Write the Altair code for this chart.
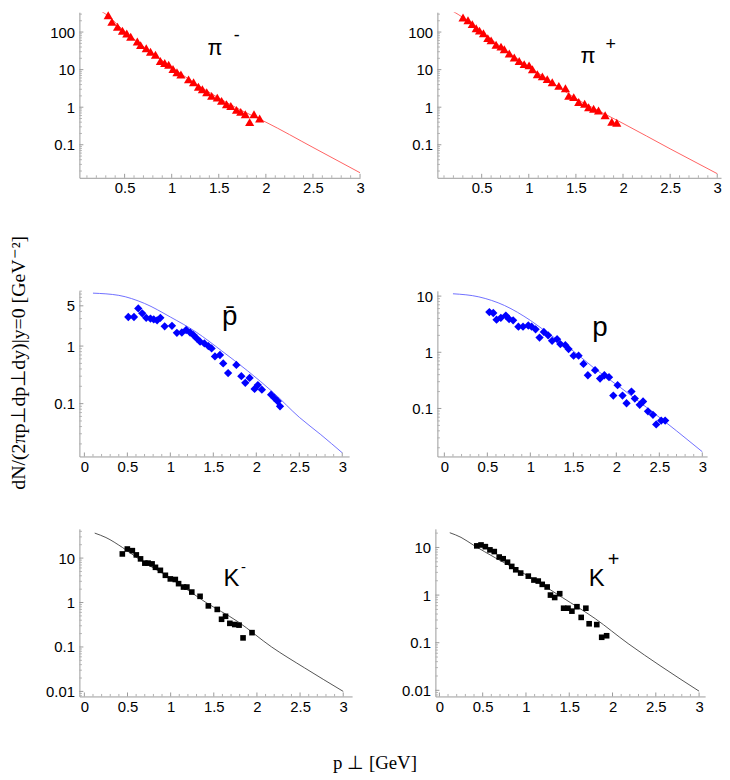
import altair as alt
import pandas as pd

# ---------------- data ----------------
# pi-
pim_p = [0.326,0.365,0.425,0.477,0.523,0.565,0.635,0.67,0.73,0.775,0.828,0.88,0.926,0.968,1.014,1.056,1.098,1.179,1.232,1.284,1.326,1.372,1.424,1.484,1.53,1.582,1.628,1.688,1.733,1.782,1.828,1.874,1.934]
pim_v = [280,187,138,108,92,75,56,45,37,30,25,17,15,13.5,10.4,8.5,7.4,5.5,4.6,3.5,3.0,2.5,2.0,1.8,1.47,1.2,1.08,0.85,0.75,0.65,0.40,0.65,0.50]
pim_cp = [0.1,0.3,0.5,0.75,1.0,1.25,1.5,1.75,2.0,2.5,3.0]
pim_cv = [546,300,105,33,11.5,4.3,1.75,0.8,0.40,0.085,0.018]
# pi+
pip_p = [0.302,0.355,0.4,0.442,0.477,0.519,0.565,0.6,0.653,0.705,0.74,0.793,0.846,0.898,0.951,1.003,1.039,1.091,1.144,1.196,1.249,1.319,1.389,1.424,1.477,1.53,1.593,1.635,1.688,1.74,1.81,1.881,1.934]
pip_v = [244,207,163,126,109,93,69,60,46,41,35,27,21,17,14,13,10.2,7.5,6.6,5.6,4.6,3.7,3.2,2.0,1.85,1.37,1.24,1.0,0.91,0.82,0.61,0.41,0.385]
pip_cp = [0.1,0.3,0.5,0.75,1.0,1.25,1.5,1.75,2.0,2.5,3.0]
pip_cv = [482,245,100,33,12,4.5,1.7,0.78,0.37,0.078,0.017]
# anti-proton
pbar_p = [0.511,0.577,0.627,0.673,0.719,0.769,0.807,0.846,0.884,0.934,1.019,1.076,1.134,1.184,1.23,1.269,1.307,1.346,1.396,1.442,1.48,1.519,1.577,1.615,1.672,1.768,1.826,1.872,1.922,1.98,2.018,2.065,2.172,2.211,2.249,2.276]
pbar_v = [3.2,3.2,4.5,3.7,3.1,3.0,2.9,2.8,3.1,2.2,2.25,1.7,1.72,1.9,1.72,1.55,1.36,1.19,1.11,1.0,0.91,0.66,0.70,0.50,0.34,0.47,0.30,0.23,0.28,0.18,0.21,0.175,0.143,0.125,0.11,0.09]
pbar_cp = [0.1,0.4,0.7,1.0,1.3,1.6,1.9,2.2,2.5,2.75,3.0]
pbar_cv = [8.3,7.6,5.5,3.2,1.75,0.82,0.37,0.155,0.058,0.029,0.014]
# proton
pr_p = [0.523,0.569,0.607,0.657,0.715,0.753,0.8,0.861,0.915,0.976,1.015,1.061,1.107,1.157,1.207,1.253,1.311,1.349,1.407,1.445,1.503,1.561,1.618,1.669,1.753,1.811,1.861,1.915,1.965,2.015,2.072,2.119,2.176,2.215,2.272,2.311,2.368,2.426,2.464,2.522,2.568]
pr_v = [5.2,5.0,3.8,4.1,4.5,3.9,3.7,2.86,2.86,3.0,2.86,2.56,1.83,2.3,2.0,1.6,1.71,1.4,1.34,1.14,0.87,0.87,0.62,0.39,0.48,0.34,0.39,0.36,0.17,0.26,0.17,0.124,0.2,0.15,0.116,0.133,0.089,0.077,0.052,0.061,0.061]
pr_cp = [0.1,0.4,0.7,1.0,1.25,1.5,1.75,2.05,2.35,2.7,3.0]
pr_cv = [11,9.7,6.8,3.7,1.95,1.05,0.51,0.235,0.105,0.04,0.017]
# K-
km_p = [0.44,0.498,0.556,0.602,0.651,0.701,0.739,0.785,0.824,0.881,0.939,0.996,1.054,1.092,1.149,1.188,1.245,1.341,1.437,1.54,1.59,1.636,1.686,1.743,1.793,1.839,1.943]
km_v = [12.4,16,14.7,11.8,9.6,7.7,7.7,7.4,6.2,5.3,4.1,3.4,3.3,2.66,2.23,2.23,1.72,1.38,0.84,0.70,0.42,0.49,0.34,0.32,0.31,0.16,0.21]
km_cp = [0.12,0.25,0.44,0.63,1.0,1.4,1.78,2.17,2.55,3.0]
km_cv = [36.5,29,17.4,9.6,3.5,1.03,0.37,0.10,0.034,0.010]
# K+
kp_p = [0.432,0.481,0.531,0.584,0.634,0.691,0.737,0.787,0.836,0.882,0.939,1.027,1.092,1.142,1.188,1.245,1.283,1.332,1.39,1.435,1.486,1.531,1.589,1.638,1.692,1.73,1.818,1.875,1.932]
kp_v = [10.8,11.3,10.4,8.9,8.2,6.3,5.8,4.9,4.0,3.4,2.9,2.5,2.07,1.97,1.68,1.48,1.0,0.89,1.07,0.53,0.53,0.46,0.57,0.34,0.53,0.25,0.24,0.13,0.14]
kp_cp = [0.12,0.25,0.39,0.65,1.03,1.42,1.8,2.18,2.56,3.0]
kp_cv = [20.4,16.3,11.3,6.0,2.5,0.89,0.32,0.096,0.032,0.0096]

# tick values
x_major_a = [0.5, 1, 1.5, 2, 2.5, 3]
x_major_b = [0, 0.5, 1, 1.5, 2, 2.5, 3]
x_minor = [round(0.1 * i, 1) for i in range(1, 31) if i % 5 != 0]
y_major_pi = [0.1, 1, 10, 100]
y_major_pbar = [0.1, 1, 5]
y_major_p = [0.1, 1, 10]
y_major_k = [0.01, 0.1, 1, 10]
y_minor = [m * 10.0 ** e for e in range(-3, 3) for m in range(2, 10)]

Y_TITLE = "dN/(2πp⊥dp⊥dy)|y=0       [GeV⁻²]"
X_TITLE = "p ⊥ [GeV]"

SANS = "Liberation Sans"
SERIF = "Liberation Serif"
NOVIEW = alt.ViewBackground(stroke="transparent", strokeWidth=0, strokeOpacity=0)


def panel(cp, cv, dp, dv, shape, mcolor, msize, lcolor, xdom, ydom, w, h,
          xt, yt, labels):
    xs = alt.Scale(domain=xdom, nice=False, zero=False)
    ys = alt.Scale(type="log", domain=ydom, nice=False)
    common = dict(domainColor="#9a9a9a", domainWidth=1, ticks=False, grid=False,
                  labelFont=SANS, labelFontSize=15, labelColor="black",
                  format="~g", title=None)
    xax = alt.Axis(values=xt, labelPadding=3, labelFlush=False, **common)
    yax = alt.Axis(values=yt, labelPadding=5, **common)

    line = alt.Chart(pd.DataFrame({"p": cp, "v": cv})).mark_line(
        color=lcolor, strokeWidth=0.9, clip=True, interpolate="monotone"
    ).encode(x=alt.X("p:Q", scale=xs, axis=xax), y=alt.Y("v:Q", scale=ys, axis=yax))

    pts = alt.Chart(pd.DataFrame({"p": dp, "v": dv})).mark_point(
        shape=shape, filled=True, size=msize, color=mcolor, opacity=1, strokeWidth=0
    ).encode(x="p:Q", y="v:Q")

    ymin = [v for v in y_minor if ydom[0] < v < ydom[1] and all(abs(v - t) > 1e-9 for t in yt)]
    xmin = [v for v in x_minor if xdom[0] < v < xdom[1]]

    ymaj_r = alt.Chart(pd.DataFrame({"v": yt})).mark_rule(color="#9a9a9a", strokeWidth=1).encode(
        y="v:Q", x=alt.value(0), x2=alt.value(4))
    ymin_r = alt.Chart(pd.DataFrame({"v": ymin})).mark_rule(color="#b0b0b0", strokeWidth=1).encode(
        y="v:Q", x=alt.value(0), x2=alt.value(2.5))
    xmaj_r = alt.Chart(pd.DataFrame({"p": xt})).mark_rule(color="#9a9a9a", strokeWidth=1).encode(
        x="p:Q", y=alt.value(h), y2=alt.value(h - 4))
    xmin_r = alt.Chart(pd.DataFrame({"p": xmin})).mark_rule(color="#b0b0b0", strokeWidth=1).encode(
        x="p:Q", y=alt.value(h), y2=alt.value(h - 2.5))

    layers = [ymin_r, ymaj_r, xmin_r, xmaj_r, pts]
    for (lp, lv, txt, fs, dx, dy) in labels:
        layers.append(
            alt.Chart(pd.DataFrame({"p": [lp], "v": [lv]})).mark_text(
                text=txt, font=SANS, fontSize=fs, dx=dx, dy=dy, color="black",
                align="center", baseline="middle"
            ).encode(x="p:Q", y="v:Q")
        )
    return alt.layer(line, *layers).properties(width=w, height=h, view=NOVIEW)


RED, RED_L = "#ff0000", "#ff5050"
BLUE, BLUE_L = "#0000ff", "#6060ff"
BLK, BLK_L = "#000000", "#404040"

L1 = panel(pim_cp, pim_cv, pim_p, pim_v, "triangle-up", RED, 85, RED_L,
           [0.02, 3.0], [0.0132, 338], 283, 167, x_major_a, y_major_pi,
           [(1.46, 37, "π", 22, 0, 0), (1.46, 37, "-", 18, 22, -12)])
R1 = panel(pip_cp, pip_cv, pip_p, pip_v, "triangle-up", RED, 85, RED_L,
           [0.03, 3.04], [0.0132, 338], 286, 167, x_major_a, y_major_pi,
           [(1.628, 22.7, "π", 22, 0, 0), (1.628, 22.7, "+", 18, 23, -11)])
L2 = panel(pbar_cp, pbar_cv, pbar_p, pbar_v, "diamond", BLUE, 70, BLUE_L,
           [-0.058, 3.08], [0.0121, 9.1], 272, 167, x_major_b, y_major_pbar,
           [(1.69, 3.25, "p̄", 28, 0, 0)])
R2 = panel(pr_cp, pr_cv, pr_p, pr_v, "diamond", BLUE, 70, BLUE_L,
           [-0.081, 3.056], [0.014, 12.4], 272, 167, x_major_b, y_major_p,
           [(1.81, 2.75, "p", 28, 0, 0)])
L3 = panel(km_cp, km_cv, km_p, km_v, "square", BLK, 32, BLK_L,
           [-0.0575, 3.103], [0.0077, 45.5], 275, 169, x_major_b, y_major_k,
           [(1.705, 3.4, "K", 24, 0, 0), (1.705, 3.4, "-", 15, 12, -12)])
R3 = panel(kp_cp, kp_cv, kp_p, kp_v, "square", BLK, 32, BLK_L,
           [-0.046, 3.07], [0.00744, 24.6], 272, 169, x_major_b, y_major_k,
           [(1.818, 2.13, "K", 24, 0, 0), (1.818, 2.13, "+", 20, 17, -20)])

row1 = alt.hconcat(L1, R1, spacing=78, bounds="flush")
row2 = alt.hconcat(L2, R2, spacing=89, bounds="flush")
row3 = alt.hconcat(L3, R3, spacing=84, bounds="flush")

core = alt.vconcat(
    row1,
    alt.vconcat(row2, row3, spacing=55),
    spacing=94,
).properties(
    title=alt.TitleParams(Y_TITLE, orient="left", anchor="middle", font=SERIF,
                          fontSize=20, fontWeight="normal", color="black", offset=17),
)

chart = alt.vconcat(core).properties(
    title=alt.TitleParams(X_TITLE, orient="bottom", anchor="middle", font=SERIF,
                          fontSize=19, fontWeight="normal", color="black", offset=40, dx=10),
    padding=0,
).configure(background="white", view=alt.ViewConfig(stroke="transparent", strokeWidth=0))

chart.save("out.html", embed_options={"renderer": "svg", "actions": False})
